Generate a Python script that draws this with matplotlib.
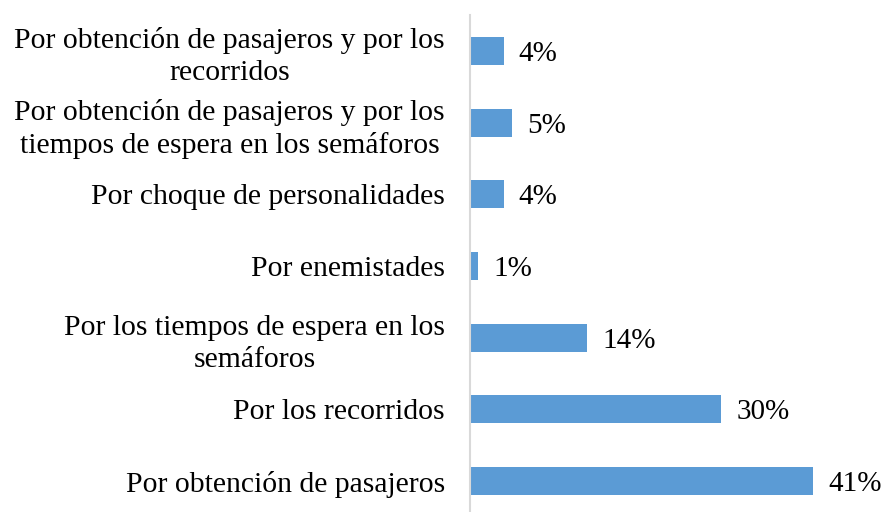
import matplotlib
matplotlib.use("Agg")
import matplotlib.pyplot as plt

categories = [
    "Por obtención de pasajeros",
    "Por los recorridos",
    "Por los tiempos de espera en los\nsemáforos",
    "Por enemistades",
    "Por choque de personalidades",
    "Por obtención de pasajeros y por los\ntiempos de espera en los semáforos",
    "Por obtención de pasajeros y por los\nrecorridos",
]
values = [41, 30, 14, 1, 4, 5, 4]
value_labels = ["41%", "30%", "14%", "1%", "4%", "5%", "4%"]

plt.rcParams['font.family'] = ['Liberation Serif', 'DejaVu Serif']

fig = plt.figure(figsize=(8.83, 5.12), dpi=100)
ax = fig.add_axes([470/883, -5/512, 413/883, 502/512])

ypos = list(range(len(categories)))
bars = ax.barh(ypos, values, height=0.39, color="#5B9BD5")
ax.set_xlim(0, 49.3)
ax.set_ylim(-0.5, 6.5)

for y, v, lab in zip(ypos, values, value_labels):
    ax.annotate(lab, xy=(v, y), xytext=(15, -3), textcoords="offset pixels",
                ha="left", va="center", fontsize=21, color="black")

ax.set_yticks(ypos)
ax.set_yticklabels(categories, fontsize=21.3, multialignment="center", linespacing=1.3)
ax.tick_params(axis="y", length=0, pad=18)
ax.set_xticks([])
for s in ["top", "right", "bottom"]:
    ax.spines[s].set_visible(False)
ax.spines["left"].set_color("#d9d9d9")
ax.spines["left"].set_linewidth(1.5)

fig.savefig("out.png", dpi=100)
